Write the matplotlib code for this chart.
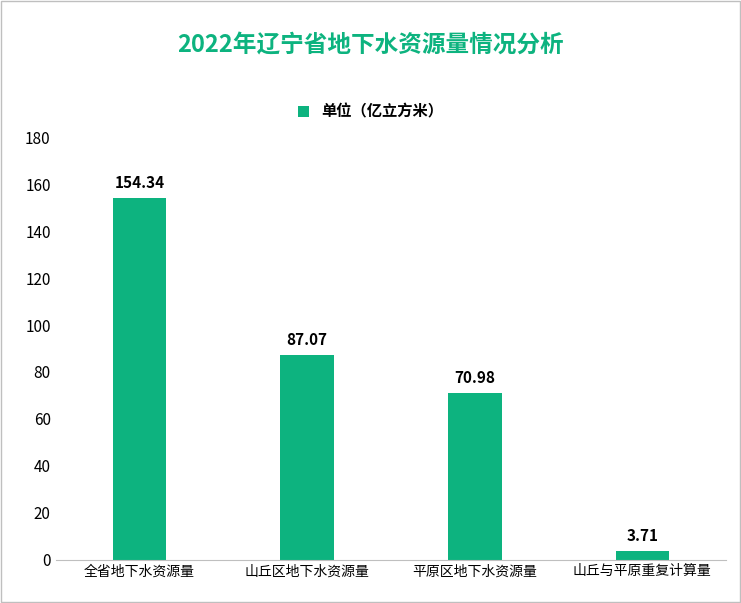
import matplotlib
matplotlib.use('Agg')
import matplotlib.pyplot as plt

categories = ['全省地下水资源量', '山丘区地下水资源量', '平原区地下水资源量', '山丘与平原重复计算量']
values = [154.34, 87.07, 70.98, 3.71]
series_name = '单位（亿立方米）'
title = '2022年辽宁省地下水资源量情况分析'

plt.rcParams['font.family'] = ['Noto Sans CJK SC', 'DejaVu Sans']
fig = plt.figure(figsize=(7.41, 6.03), dpi=100)
ax = fig.add_axes([0.075, 0.072, 0.905, 0.7])
color = '#0DB37F'
bars = ax.bar(range(len(categories)), values, width=0.32, color=color, label=series_name)
for i, v in enumerate(values):
    ax.text(i, v + 3, f'{v:.2f}', ha='center', va='bottom', fontsize=11, fontweight='bold')
ax.set_xticks(range(len(categories)))
ax.set_xticklabels(categories, fontsize=10)
ax.set_ylim(0, 180)
ax.set_xlim(-0.5, 3.5)
ax.set_yticks(range(0, 181, 20))
ax.tick_params(axis='y', labelsize=11, length=0)
ax.tick_params(axis='x', length=0)
for s in ['top', 'right', 'left']:
    ax.spines[s].set_visible(False)
ax.spines['bottom'].set_color('#BFBFBF')
fig.text(0.5, 0.925, title, ha='center', va='center', fontsize=17, fontweight='bold', color=color)
fig.legend(loc='center', bbox_to_anchor=(0.5, 0.815), frameon=False, fontsize=11, handlelength=0.7, handleheight=0.7,
           prop={'weight': 'bold', 'size': 11})
fig.patches.append(plt.Rectangle((0.002, 0.002), 0.996, 0.996, transform=fig.transFigure, fill=False, edgecolor='#BFBFBF', lw=1))
fig.savefig('out.png', dpi=100)
